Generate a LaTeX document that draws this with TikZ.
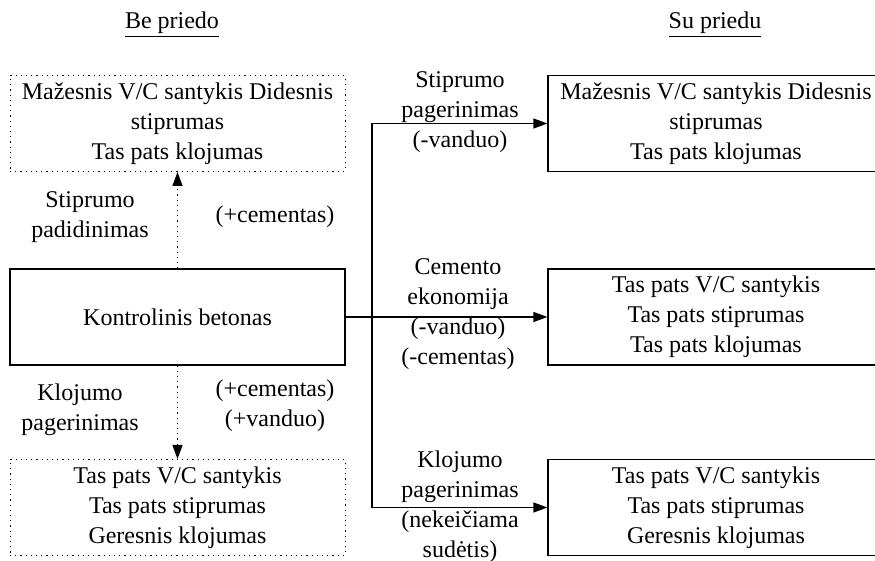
\documentclass[tikz,border=0pt]{standalone}
\usepackage{fontspec}
\setmainfont{Liberation Serif}
\usepackage{tikz}
\usetikzlibrary{arrows.meta,positioning}

\begin{document}
\begin{tikzpicture}[x=0.5pt, y=-0.5pt,
    font=\fontsize{12}{15}\selectfont,
    box/.style={draw, line width=0.6pt, minimum width=167.5pt, minimum height=48pt, align=center, inner sep=0pt},
    dotbox/.style={box, dotted, line width=0.5pt},
    rbox/.style={box, minimum width=168pt},
    lbl/.style={align=center, inner sep=0pt},
    arr/.style={-{Triangle[length=7pt,width=5pt]}, line width=0.6pt}]
    \useasboundingbox (0,0) rectangle (875,561);

    % Headers
    \node[lbl] (be) at (172,25) {\underline{Be priedo}};
    \node[lbl] (su) at (715,25) {\underline{Su priedu}};

    % Left column
    \node[dotbox] (tl) at (177.5,123.5) {Mažesnis V/C santykis Didesnis\\ stiprumas\\ Tas pats klojumas};
    \node[box] (kb) at (177.5,317) {Kontrolinis betonas};
    \node[dotbox] (bl) at (177.5,507.5) {Tas pats V/C santykis\\ Tas pats stiprumas\\ Geresnis klojumas};

    % Right column
    \node[rbox] (tr) at (716,123.5) {Mažesnis V/C santykis Didesnis\\ stiprumas\\ Tas pats klojumas};
    \node[rbox] (mr) at (716,317) {Tas pats V/C santykis\\ Tas pats stiprumas\\ Tas pats klojumas};
    \node[rbox] (br) at (716,507.5) {Tas pats V/C santykis\\ Tas pats stiprumas\\ Geresnis klojumas};

    % Left labels
    \node[lbl] (sp) at (90,217) {Stiprumo\\ padidinimas};
    \node[lbl] (pc) at (275,217) {(+cementas)};
    \node[lbl] (kp) at (80,410) {Klojumo\\ pagerinimas};
    \node[lbl] (pv) at (275,406) {(+cementas)\\ (+vanduo)};

    % Right labels
    \node[lbl] (spv) at (460,112) {Stiprumo\\ pagerinimas\\ (-vanduo)};
    \node[lbl] (ce) at (458,314) {Cemento\\ ekonomija\\ (-vanduo)\\ (-cementas)};
    \node[lbl] (kps) at (460,507) {Klojumo\\ pagerinimas\\ (nekeičiama\\ sudėtis)};

    % Connectors
    \draw[arr, dotted] (kb.north) -- (tl.south);
    \draw[arr, dotted] (kb.south) -- (bl.north);
    \coordinate (split) at (372,317);
    \draw[arr] (kb.east) -- (mr.west);
    \draw[arr] (split) |- (tr.west);
    \draw[arr] (split) |- (br.west);
\end{tikzpicture}
\end{document}
